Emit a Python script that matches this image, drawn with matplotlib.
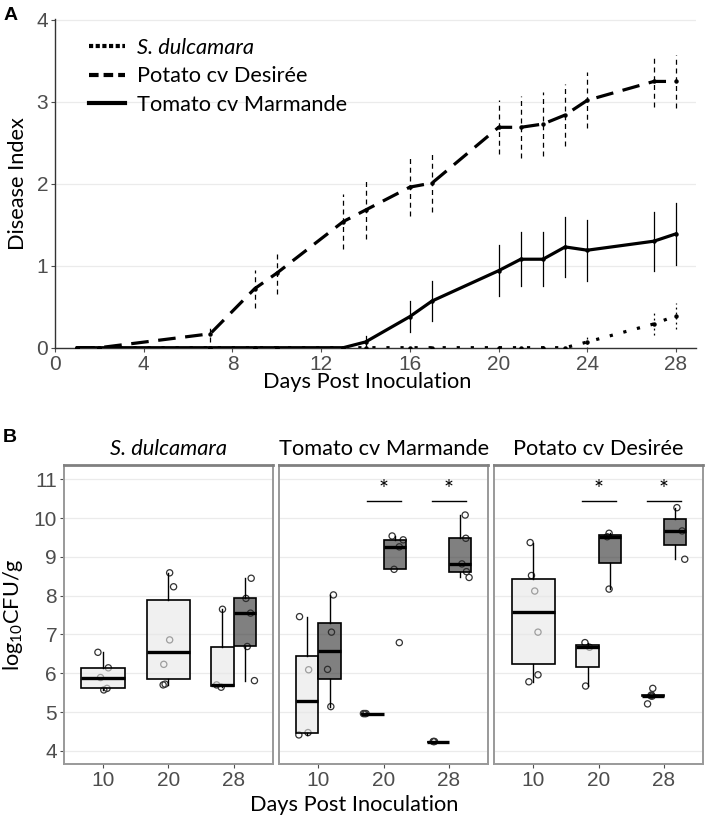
import numpy as np
import matplotlib
matplotlib.use("Agg")
from matplotlib import pyplot as plt
from matplotlib.lines import Line2D
from matplotlib import cbook

# ---- panel A data: disease index over time ----
days = [1, 2, 7, 9, 10, 13, 14, 16, 17, 20, 21, 22, 23, 24, 27, 28]
potatoMean = [0, 0, 0.17, 0.72, 0.91, 1.54, 1.68, 1.96, 2.01, 2.69, 2.69, 2.73, 2.84, 3.02, 3.25, 3.25]
potatoErr = [0, 0, 0.10, 0.23, 0.26, 0.33, 0.35, 0.35, 0.35, 0.33, 0.38, 0.39, 0.38, 0.34, 0.31, 0.32]
tomatoMean = [0, 0, 0, 0, 0, 0, 0.07, 0.38, 0.57, 0.94, 1.08, 1.08, 1.23, 1.19, 1.30, 1.39]
tomatoErr = [0, 0, 0, 0, 0, 0, 0.07, 0.19, 0.25, 0.31, 0.33, 0.33, 0.37, 0.37, 0.36, 0.38]
dulcMean = [0, 0, 0, 0, 0, 0, 0, 0, 0, 0, 0, 0, 0, 0.07, 0.29, 0.39]
dulcErr = [0, 0, 0, 0, 0, 0, 0, 0, 0, 0, 0, 0, 0, 0.08, 0.13, 0.16]

# ---- panel B data: log10 CFU/g per facet, per day, light / dark group ----
facets = ["S. dulcamara", "Tomato cv Marmande", "Potato cv Desirée"]
dayCats = ["10", "20", "28"]
lightVals = [
    [[6.54, 6.14, 5.89, 5.61, 5.57], [8.59, 8.23, 6.86, 6.23, 5.72, 5.70], [7.65, 5.70, 5.64]],
    [[7.46, 6.09, 4.41, 4.47], [4.96, 4.96, 4.96], [4.24, 4.24, 4.24]],
    [[9.37, 8.52, 8.12, 7.06, 5.96, 5.78], [6.79, 6.67, 5.67], [5.61, 5.44, 5.42, 5.41, 5.21]],
]
darkVals = [
    [None, None, [8.45, 7.93, 7.55, 6.69, 5.81]],
    [[8.02, 7.06, 6.10, 5.14], [9.54, 9.44, 9.26, 8.68, 6.79], [10.08, 9.48, 8.82, 8.62, 8.47]],
    [None, [9.61, 9.52, 8.17], [10.27, 9.67, 8.94]],
]
# horizontal jitter of the points
lightJit = [
    [[-0.08, 0.08, -0.04, 0.06, 0.01], [0.02, 0.08, 0.02, -0.07, -0.05, -0.08], [0.0, -0.09, -0.02]],
    [[-0.12, 0.02, -0.13, 0.01], [-0.14, -0.10, -0.12], [-0.07, -0.05, -0.06]],
    [[-0.05, -0.03, 0.02, 0.07, 0.07, -0.07], [-0.04, 0.03, -0.03], [0.0, -0.02, -0.03, -0.01, -0.08]],
]
darkJit = [
    [None, None, [0.10, 0.02, 0.09, 0.04, 0.15]],
    [[0.06, 0.03, -0.03, 0.02], [-0.04, 0.13, 0.07, -0.01, 0.07], [0.08, 0.09, 0.03, 0.10, 0.14]],
    [None, [-0.01, -0.04, -0.01], [0.03, 0.11, 0.15]],
]
# significance marks: (facet, day index)
sigMarks = [(1, 1), (1, 2), (2, 1), (2, 2)]

labelFont = ["Lato", "DejaVu Sans"]
tickFont = ["Liberation Sans", "DejaVu Sans"]
tickCol = "#4d4d4d"
gridCol = "#ebebeb"
labSize = 15.7
plt.rcParams["mathtext.default"] = "regular"


def drawPanelA(fig):
    ax = fig.add_axes([55 / 706, 1 - 347.7 / 823, 641 / 706, 328.7 / 823])
    ax.set_xlim(0, 28.9)
    ax.set_ylim(0, 4.012)
    for y in range(0, 5):
        ax.axhline(y, color=gridCol, lw=0.9, zorder=0)
    series = [
        (dulcMean, dulcErr, (0, (1, 3.4)), (0, (1.5, 2.5))),
        (potatoMean, potatoErr, (0, (5.5, 3)), (0, (4, 3))),
        (tomatoMean, tomatoErr, "-", "-"),
    ]
    for mean, err, ls, els in series:
        mean = np.array(mean)
        err = np.array(err)
        for d, m, e in zip(days, mean, err):
            if e > 0:
                ax.plot([d, d], [m - e, m + e], color="black", lw=0.9, ls=els, zorder=2)
        ax.plot(days, mean, color="black", lw=2.3, ls=ls, dash_capstyle="butt", zorder=3)
        ax.plot(days, mean, "o", color="black", ms=2.2, zorder=4)
    ax.set_xticks(range(0, 29, 4))
    ax.set_yticks(range(0, 5))
    for s in ["top", "right"]:
        ax.spines[s].set_visible(False)
    for s in ["left", "bottom"]:
        ax.spines[s].set_color("#333333")
        ax.spines[s].set_linewidth(1.0)
    ax.tick_params(length=3, width=0.8, color=tickCol, labelcolor=tickCol, labelsize=15, pad=2)
    for lab in ax.get_xticklabels() + ax.get_yticklabels():
        lab.set_family(tickFont)
    ax.set_xlabel("Days Post Inoculation", fontsize=labSize, family=labelFont, labelpad=4)
    ax.xaxis.set_label_coords(0.487, -0.075)
    ax.set_ylabel("Disease Index", fontsize=labSize, family=labelFont, labelpad=6)
    handles = [
        Line2D([], [], color="black", lw=3, ls=(0, (1, 0.6)), dash_capstyle="butt"),
        Line2D([], [], color="black", lw=3, ls=(0, (2.3, 1.2)), dash_capstyle="butt"),
        Line2D([], [], color="black", lw=3, ls="-"),
    ]
    leg = ax.legend(handles, ["S. dulcamara", "Potato cv Desirée", "Tomato cv Marmande"],
                    loc="upper left", bbox_to_anchor=(0.022, 1.003), frameon=False,
                    handlelength=1.65, handletextpad=0.55, labelspacing=0.4,
                    prop={"family": labelFont, "size": labSize})
    leg.get_texts()[0].set_style("italic")


def drawBoxes(ax, vals, jit, pos, width, face):
    vals = np.array(vals)
    x = pos + np.array(jit)
    ax.scatter(x, vals, s=20, facecolors="none", edgecolors="#333333", linewidths=0.9, zorder=2)
    stats = cbook.boxplot_stats(vals, whis=1.5)
    ax.bxp(stats, positions=[pos], widths=width, patch_artist=True, showfliers=False,
           showcaps=False, manage_ticks=False,
           boxprops=dict(facecolor=face, edgecolor="black", lw=1.2),
           medianprops=dict(color="black", lw=2.4, solid_capstyle="butt"),
           whiskerprops=dict(color="black", lw=1.0), zorder=3)


def drawPanelB(fig):
    lefts = [64, 279.3, 494.3]
    axes = []
    for f in range(3):
        ax = fig.add_axes([lefts[f] / 706, 1 - 764 / 823, 208.7 / 706, 299 / 823])
        ax.set_xlim(0.4, 3.6)
        ax.set_ylim(3.66, 11.37)
        for y in range(4, 12):
            ax.axhline(y, color=gridCol, lw=0.9, zorder=0)
        for i in range(3):
            pos = i + 1
            lv = lightVals[f][i]
            dv = darkVals[f][i]
            if dv is None:
                drawBoxes(ax, lv, lightJit[f][i], pos, 0.67, (0.90, 0.90, 0.90, 0.6))
            else:
                drawBoxes(ax, lv, lightJit[f][i], pos - 0.17, 0.34, (0.90, 0.90, 0.90, 0.6))
                drawBoxes(ax, dv, darkJit[f][i], pos + 0.17, 0.34, (0.17, 0.17, 0.17, 0.6))
        for fi, di in sigMarks:
            if fi == f:
                ax.plot([di + 1 - 0.26, di + 1 + 0.26], [10.45, 10.45], color="black", lw=1.0)
                ax.text(di + 1, 10.47, "*", ha="center", va="bottom", fontsize=17, family=labelFont)
        ax.set_xticks([1, 2, 3])
        ax.set_xticklabels(dayCats)
        ax.set_yticks(range(4, 12))
        for s in ["left", "right", "bottom"]:
            ax.spines[s].set_color("#999999")
            ax.spines[s].set_linewidth(1.4)
        ax.spines["top"].set_color("#808080")
        ax.spines["top"].set_linewidth(2.0)
        ax.tick_params(length=3, width=0.8, color=tickCol, labelcolor=tickCol, labelsize=15, pad=2)
        if f > 0:
            ax.tick_params(axis="y", left=False, labelleft=False)
        for lab in ax.get_xticklabels() + ax.get_yticklabels():
            lab.set_family(tickFont)
        ax.set_title(facets[f], fontsize=labSize, family=labelFont, pad=7,
                     style="italic" if f == 0 else "normal")
        axes.append(ax)
    axes[0].set_ylabel("log$_{10}$CFU/g", fontsize=labSize, family=labelFont, labelpad=6)
    fig.text(354 / 706, 1 - 805 / 823, "Days Post Inoculation", ha="center", va="center",
             fontsize=labSize, family=labelFont)


def main():
    fig = plt.figure(figsize=(7.06, 8.23), dpi=100)
    drawPanelA(fig)
    drawPanelB(fig)
    fig.text(4 / 706, 1 - 15 / 823, "A", fontsize=14, fontweight="bold", family=tickFont, va="center")
    fig.text(3 / 706, 1 - 437 / 823, "B", fontsize=14, fontweight="bold", family=tickFont, va="center")
    fig.savefig("out.png", dpi=100)


if __name__ == "__main__":
    main()
